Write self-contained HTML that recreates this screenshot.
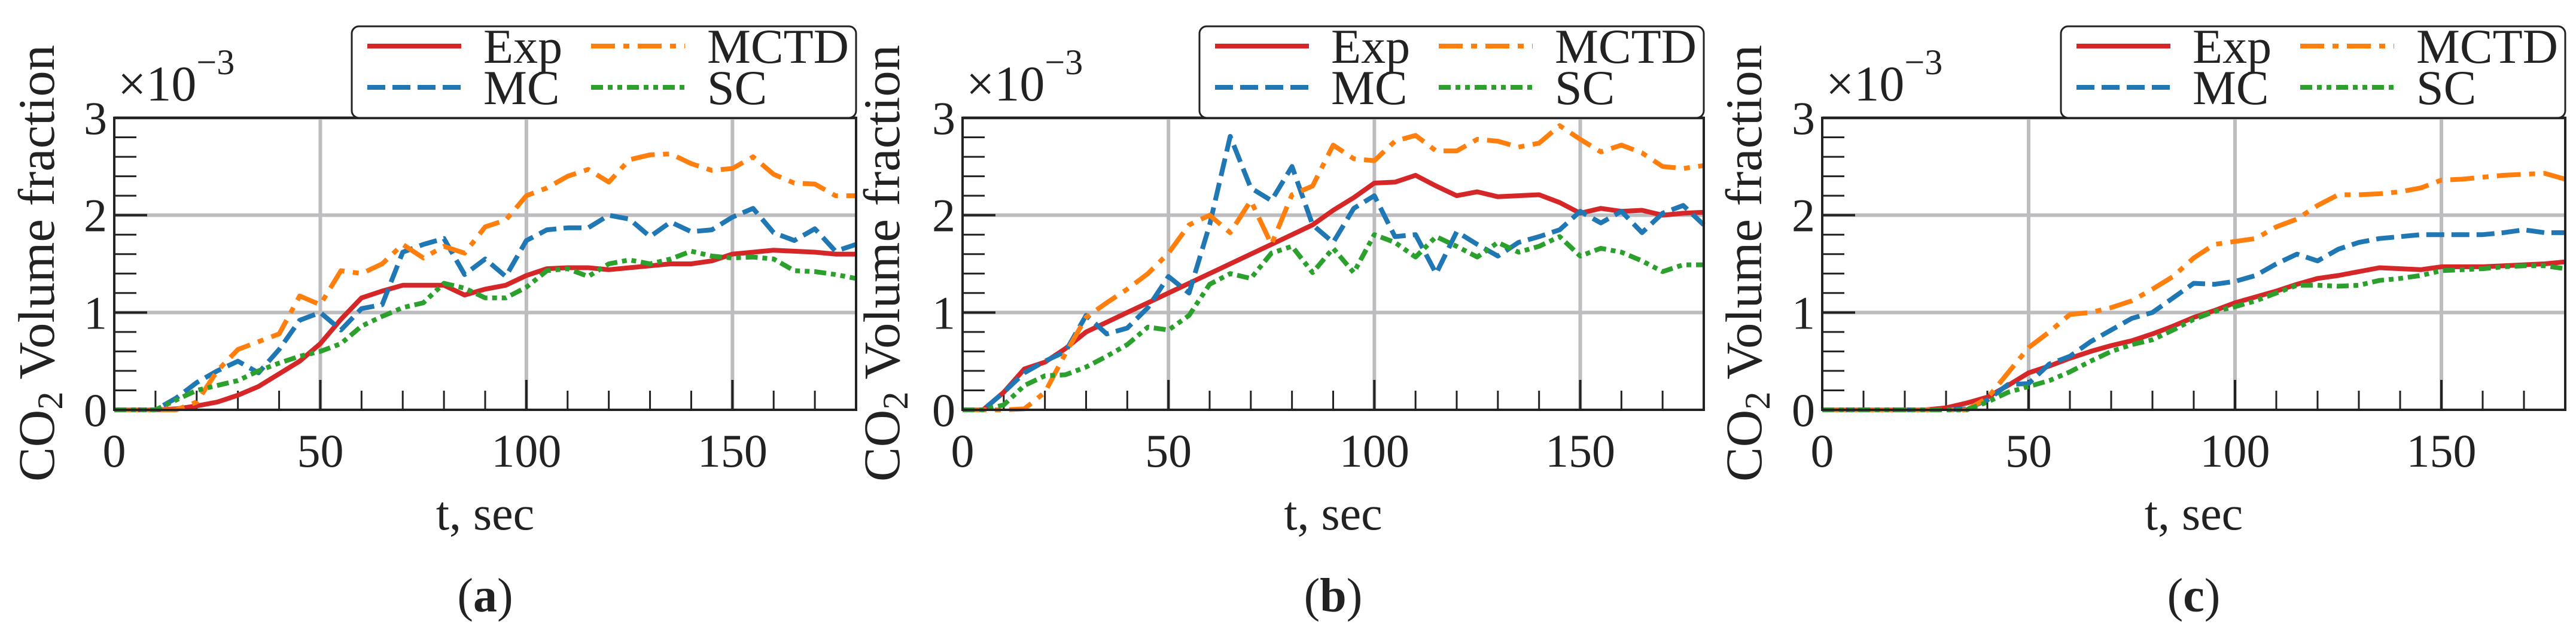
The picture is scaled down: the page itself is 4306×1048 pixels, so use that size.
<!DOCTYPE html>
<html><head><meta charset="utf-8"><style>
html,body{margin:0;padding:0;background:#fff;}
svg{display:block;font-family:"Liberation Serif",serif;}
</style></head><body>
<svg id="fig" width="4306" height="1048" viewBox="0 0 4306 1048" xmlns="http://www.w3.org/2000/svg"></svg>
<script>
const times = [0,5,10,15,20,25,30,35,40,45,50,55,60,65,70,75,80,85,90,95,100,105,110,115,120,125,130,135,140,145,150,155,160,165,170,175,180];
const xTicks = [0,50,100,150];
const yTicks = [0,1,2,3];
const seriesNames = ["Exp","MC","MCTD","SC"];
const panelLabels = ["a","b","c"];

const expA = [0,0,0,0.01,0.04,0.08,0.15,0.24,0.37,0.5,0.68,0.93,1.15,1.22,1.28,1.28,1.28,1.18,1.24,1.28,1.38,1.45,1.46,1.46,1.44,1.46,1.48,1.5,1.5,1.53,1.6,1.62,1.64,1.63,1.62,1.6,1.6];
const mcA = [0,0,0,0.12,0.28,0.4,0.5,0.38,0.62,0.92,1.0,0.82,1.04,1.08,1.62,1.7,1.76,1.39,1.55,1.37,1.74,1.85,1.87,1.87,2.0,1.96,1.78,1.93,1.83,1.85,1.98,2.07,1.82,1.74,1.86,1.63,1.7];
const mctdA = [0,0,0,0,0.08,0.4,0.62,0.7,0.78,1.17,1.08,1.43,1.4,1.5,1.7,1.56,1.68,1.61,1.88,1.95,2.2,2.28,2.4,2.47,2.34,2.57,2.62,2.63,2.53,2.46,2.48,2.6,2.42,2.33,2.32,2.2,2.2];
const scA = [0,0,0,0.1,0.2,0.25,0.3,0.4,0.48,0.55,0.6,0.68,0.86,0.96,1.05,1.1,1.3,1.25,1.15,1.15,1.26,1.43,1.45,1.37,1.5,1.54,1.5,1.55,1.63,1.58,1.56,1.57,1.55,1.43,1.42,1.39,1.35];

const expB = [0,0,0.18,0.42,0.49,0.63,0.8,0.9,1.0,1.1,1.2,1.3,1.4,1.5,1.6,1.7,1.8,1.9,2.05,2.18,2.33,2.34,2.41,2.3,2.2,2.24,2.19,2.2,2.21,2.13,2.02,2.07,2.04,2.05,2.0,2.02,2.03];
const mcB = [0,0,0.18,0.38,0.5,0.6,0.97,0.78,0.84,1.05,1.37,1.2,1.9,2.81,2.28,2.15,2.5,1.9,1.72,2.07,2.2,1.78,1.8,1.4,1.83,1.7,1.58,1.72,1.78,1.85,2.04,1.92,2.04,1.82,2.02,2.1,1.9];
const mctdB = [0,0,0,0.01,0.18,0.58,0.95,1.1,1.24,1.4,1.61,1.9,2.0,1.82,2.15,1.7,2.21,2.3,2.72,2.58,2.56,2.76,2.82,2.66,2.66,2.78,2.76,2.7,2.74,2.92,2.78,2.65,2.72,2.64,2.5,2.48,2.51];
const scB = [0,0,0.05,0.25,0.35,0.36,0.44,0.55,0.67,0.85,0.82,0.97,1.29,1.4,1.35,1.61,1.68,1.41,1.66,1.41,1.8,1.72,1.57,1.78,1.68,1.57,1.72,1.62,1.68,1.78,1.58,1.66,1.62,1.53,1.42,1.49,1.49];

const expC = [0,0,0,0,0,0,0.02,0.07,0.13,0.25,0.38,0.45,0.53,0.6,0.66,0.71,0.78,0.86,0.95,1.02,1.1,1.16,1.22,1.29,1.35,1.38,1.42,1.46,1.45,1.44,1.47,1.47,1.47,1.48,1.49,1.5,1.52];
const mcC = [0,0,0,0,0,0,0,0.01,0.1,0.26,0.27,0.47,0.55,0.7,0.82,0.94,1.0,1.15,1.3,1.29,1.32,1.38,1.5,1.6,1.53,1.65,1.72,1.76,1.78,1.8,1.8,1.8,1.8,1.82,1.85,1.82,1.82];
const mctdC = [0,0,0,0,0,0,0,0,0.12,0.38,0.64,0.8,0.98,1.0,1.05,1.12,1.24,1.37,1.56,1.7,1.73,1.76,1.88,1.96,2.1,2.21,2.21,2.22,2.24,2.28,2.36,2.37,2.39,2.41,2.42,2.43,2.37];
const scC = [0,0,0,0,0,0,0,0,0.08,0.18,0.24,0.3,0.39,0.5,0.6,0.67,0.72,0.82,0.93,1.01,1.06,1.12,1.2,1.28,1.28,1.27,1.28,1.33,1.35,1.38,1.43,1.44,1.45,1.47,1.48,1.48,1.45];

const NS="http://www.w3.org/2000/svg";
const svg=document.getElementById('fig');
function mk(tag,attrs,parent){const e=document.createElementNS(NS,tag);for(const k in attrs)e.setAttribute(k,attrs[k]);(parent||svg).appendChild(e);return e;}

const styles=[
 {color:"#d62728",dash:""},
 {color:"#1f77b4",dash:"30 12"},
 {color:"#ff7f0e",dash:"40 14 10 14"},
 {color:"#2ca02c",dash:"20 8 8 8 8 8"}
];
const panels=[
 {left:191,right:1431,titleX:62,data:[expA,mcA,mctdA,scA]},
 {left:1609,right:2848,titleX:1475,data:[expB,mcB,mctdB,scB]},
 {left:3046,right:4288,titleX:2916,data:[expC,mcC,mctdC,scC]}
];
const TOP=197,BOT=685,XMAX=180,YMAX=3;

panels.forEach((p,pi)=>{
 const g=mk('g',{});
 
 
 const xs=t=>p.left+(t/XMAX)*(p.right-p.left);
 const ys=v=>BOT-(v/YMAX)*(BOT-TOP);
 xTicks.forEach(t=>{if(t>0){const l=mk('line',{x1:xs(t),x2:xs(t),y1:TOP,y2:BOT,stroke:"#bdbdc0","stroke-width":6},g);
  
  }});
 yTicks.forEach(v=>{if(v>0){const l=mk('line',{x1:p.left,x2:p.right,y1:ys(v),y2:ys(v),stroke:"#bdbdc0","stroke-width":6},g);
  
  }});
 for(let t=10;t<XMAX;t+=10){const major=t%50===0;mk('line',{x1:xs(t),x2:xs(t),y1:BOT,y2:BOT-(major?50:32),stroke:"#222","stroke-width":major?4:3},g);}
 for(let v=0.2;v<YMAX;v+=0.2){const major=Math.abs(v-Math.round(v))<0.01;mk('line',{x1:p.left,x2:p.left+(major?55:37),y1:ys(v),y2:ys(v),stroke:"#222","stroke-width":major?4:3},g);}
 mk('line',{x1:p.left,x2:p.left+55,y1:TOP,y2:TOP,stroke:"#222","stroke-width":4},g);
 p.data.forEach((arr,si)=>{
  const d=arr.map((v,i)=>(i?'L':'M')+xs(times[i]).toFixed(1)+','+ys(v).toFixed(1)).join(' ');
  const path=mk('path',{d:d,fill:"none",stroke:styles[si].color,"stroke-width":8,"stroke-dasharray":styles[si].dash,"stroke-linejoin":"round"},g);
  
  
 });
 const fr=mk('rect',{x:p.left,y:TOP,width:p.right-p.left,height:BOT-TOP,fill:"none",stroke:"#222","stroke-width":4},g);
 
 
 xTicks.forEach(t=>{const tx=mk('text',{x:xs(t),y:780,"font-size":78,"text-anchor":"middle",fill:"#222"},g);tx.textContent=t;
  
  });
 yTicks.forEach(v=>{const tx=mk('text',{x:p.left-12,y:ys(v)+27,"font-size":78,"text-anchor":"end",fill:"#222"},g);tx.textContent=v;
  
  });
 const m=mk('text',{x:p.left+6,y:168,"font-size":84,fill:"#222"},g);
 m.innerHTML='×10<tspan dy="-44" font-size="60">−3</tspan>';
 
 
 const yt=mk('text',{x:0,y:0,"font-size":86,"text-anchor":"middle",fill:"#222",transform:`translate(${p.titleX+28},440) rotate(-90)`,textLength:730,lengthAdjust:"spacingAndGlyphs"},g);
 yt.innerHTML='CO<tspan dy="14" font-size="60">2</tspan><tspan dy="-14"> Volume fraction</tspan>';
 
 
 const xt=mk('text',{x:(p.left+p.right)/2,y:885,"font-size":80,"text-anchor":"middle",fill:"#222"},g);
 xt.textContent='t, sec';
 
 
 const pl=mk('text',{x:(p.left+p.right)/2,y:1022,"font-size":80,"text-anchor":"middle",fill:"#222"},g);
 pl.innerHTML='(<tspan font-weight="bold">'+panelLabels[pi]+'</tspan>)';
 
 
 const lg=mk('g',{},g);
 
 
 const L=p.right-843;
 mk('rect',{x:L,y:44,width:843,height:153,rx:12,fill:"#fff",stroke:"#222","stroke-width":3},lg);
 const pos=[[0,0],[0,1],[1,0],[1,1]];
 seriesNames.forEach((n,si)=>{
  const cx=L+26+pos[si][0]*374, cy=pos[si][1]?146:77;
  const e=mk('g',{},lg);
  
  
  mk('line',{x1:cx,x2:cx+157,y1:cy,y2:cy,stroke:styles[si].color,"stroke-width":8,"stroke-dasharray":styles[si].dash},e);
  const t=mk('text',{x:cx+194,y:cy+28,"font-size":82,fill:"#222"},e);t.textContent=n;
 });
});
</script>
</body></html>
